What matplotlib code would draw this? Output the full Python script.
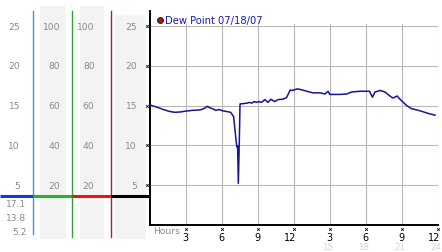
import matplotlib
matplotlib.use("Agg")
import matplotlib.pyplot as plt
import matplotlib.transforms as mtransforms
from matplotlib.patches import Rectangle

# ---- data ----
hours = [0.0, 0.4, 0.8, 1.25, 1.7, 2.1, 2.6, 3.0, 3.6, 4.2, 4.5, 4.8, 5.05, 5.25, 5.5, 5.8,
         6.05, 6.25, 6.75, 7.0, 7.1, 7.2, 7.27, 7.33, 7.39, 7.47, 7.53, 8.1, 8.3, 8.5, 8.7,
         8.9, 9.1, 9.3, 9.6, 9.85, 10.1, 10.4, 10.7, 11.1, 11.4, 11.7, 11.9, 12.3, 12.75,
         13.2, 13.6, 14.2, 14.6, 14.85, 15.0, 15.8, 16.4, 16.8, 17.5, 18.3, 18.55, 18.75,
         19.2, 19.6, 20.0, 20.25, 20.6, 21.0, 21.4, 21.8, 22.25, 22.7, 23.2, 23.75]
dew = [15.1, 14.9, 14.7, 14.45, 14.25, 14.15, 14.2, 14.3, 14.4, 14.45, 14.6, 14.9, 14.7, 14.6,
       14.4, 14.5, 14.35, 14.3, 14.15, 13.6, 12.1, 10.6, 9.8, 9.9, 5.2, 10.4, 15.2, 15.3, 15.4,
       15.3, 15.5, 15.4, 15.5, 15.4, 15.75, 15.4, 15.8, 15.5, 15.75, 15.8, 16.0, 16.95, 16.9,
       17.1, 16.95, 16.75, 16.6, 16.6, 16.45, 16.8, 16.4, 16.4, 16.45, 16.7, 16.8, 16.8, 16.05,
       16.7, 16.9, 16.7, 16.2, 15.95, 16.2, 15.55, 15.0, 14.6, 14.45, 14.25, 14.0, 13.8]

y_ticks = [5, 10, 15, 20, 25]
pct_ticks = [20, 40, 60, 80, 100]
x_ticks = [3, 6, 9, 12, 15, 18, 21, 24]
x_top_labels = ["3", "6", "9", "12", "3", "6", "9", "12"]
x_bottom_labels = ["", "", "", "", "15", "18", "21", "24"]
summary = ["17.1", "13.8", "5.2"]
legend_label = "Dew Point 07/18/07"

W, H = 442, 253
fig = plt.figure(figsize=(W / 100, H / 100), dpi=100)
fig.patch.set_facecolor("white")
FS = 6.6
GRAY = "#8a8a8a"

# overlay axes in pixel coordinates
ov = fig.add_axes([0, 0, 1, 1])
ov.set_xlim(0, W)
ov.set_ylim(H, 0)
ov.axis("off")

# main plot axes
y0, y1 = 225.75, 12
x0, x1 = 149.5, 438
ax = fig.add_axes([x0 / W, (H - y0) / H, (x1 - x0) / W, (y0 - y1) / H])
ax.set_xlim(0, 24)
ax.set_ylim(0, 26.9)
ax.patch.set_alpha(0)
for s in ["top", "right"]:
    ax.spines[s].set_visible(False)
ax.spines["left"].set_color("black")
ax.spines["bottom"].set_color("black")
ax.spines["left"].set_linewidth(1.4)
ax.spines["bottom"].set_linewidth(1.4)
ax.set_xticks([])
ax.set_yticks([])

# grid
for v in y_ticks:
    ax.plot([0, 24], [v, v], color="#b8b8b8", lw=0.8, zorder=1)
for v in x_ticks:
    ax.plot([v, v], [0, 25.3], color="#b8b8b8", lw=0.8, zorder=1)

ax.plot(hours, dew, color="#14149a", lw=1.1, zorder=3, clip_on=False)

# legend
ax.plot([0.9], [25.8], marker="o", ms=4.2, mfc="#a01818", mec="#301010", mew=0.7,
        clip_on=False, zorder=4)
ax.text(1.3, 25.8, legend_label, color="#1a1ab0", fontsize=7.2, va="center", ha="left")

# left panel
tr = mtransforms.blended_transform_factory(ov.transData, ax.transData)
for (xa, xb, ytop) in [(40, 66, 7), (80, 104, 7), (115, 146, 16)]:
    ov.add_patch(Rectangle((xa, ytop), xb - xa, 240 - ytop, color="#f3f3f3", lw=0, zorder=0))

for x, c, yb in [(33, "#3a9ad0", 235), (72, "#30a030", 238), (111, "#b02020", 238)]:
    ov.plot([x, x], [12, yb], color=c, lw=1.0, zorder=2)

for xa, xb, c in [(0, 33, "#1838d8"), (33, 72, "#28b428"), (72, 111, "#e01818"), (111, 149.5, "#000000")]:
    ov.plot([xa, xb], [196.5, 196.5], color=c, lw=2.2, solid_capstyle="butt", zorder=3)

for v, p in zip(y_ticks, pct_ticks):
    ov.text(20, v, str(v), transform=tr, ha="right", va="center", fontsize=FS, color=GRAY)
    ov.text(60, v, str(p), transform=tr, ha="right", va="center", fontsize=FS, color=GRAY)
    ov.text(94.5, v, str(p), transform=tr, ha="right", va="center", fontsize=FS, color=GRAY)
    ov.text(137, v, str(v), transform=tr, ha="right", va="center", fontsize=FS, color=GRAY)
    ov.plot([147], [v], transform=tr, marker="x", ms=1.8, mew=0.6, color="black")

for s, yy in zip(summary, [205, 218.5, 232.5]):
    ov.text(26.5, yy, s, ha="right", va="center", fontsize=FS, color=GRAY)

# bottom labels
ov.text(153, 231.5, "Hours", ha="left", va="center", fontsize=FS, color=GRAY)
off = mtransforms.ScaledTranslation(2.5 / 100, 0, fig.dpi_scale_trans)
off2 = mtransforms.ScaledTranslation(-2.0 / 100, 0, fig.dpi_scale_trans)
trx = mtransforms.blended_transform_factory(ax.transData, ov.transData)
for v, lt, lb in zip(x_ticks, x_top_labels, x_bottom_labels):
    ov.plot([v], [230], transform=trx, marker="x", ms=1.8, mew=0.6, color="black")
    ov.text(v, 238, lt, transform=trx + off, ha="right", va="center", fontsize=FS + 0.4, color="black")
    if lb:
        ov.text(v, 247.5, lb, transform=trx + off2, ha="center", va="center", fontsize=FS - 0.3,
                color="#d4d4d4")

fig.savefig("out.png", dpi=100, facecolor="white")
